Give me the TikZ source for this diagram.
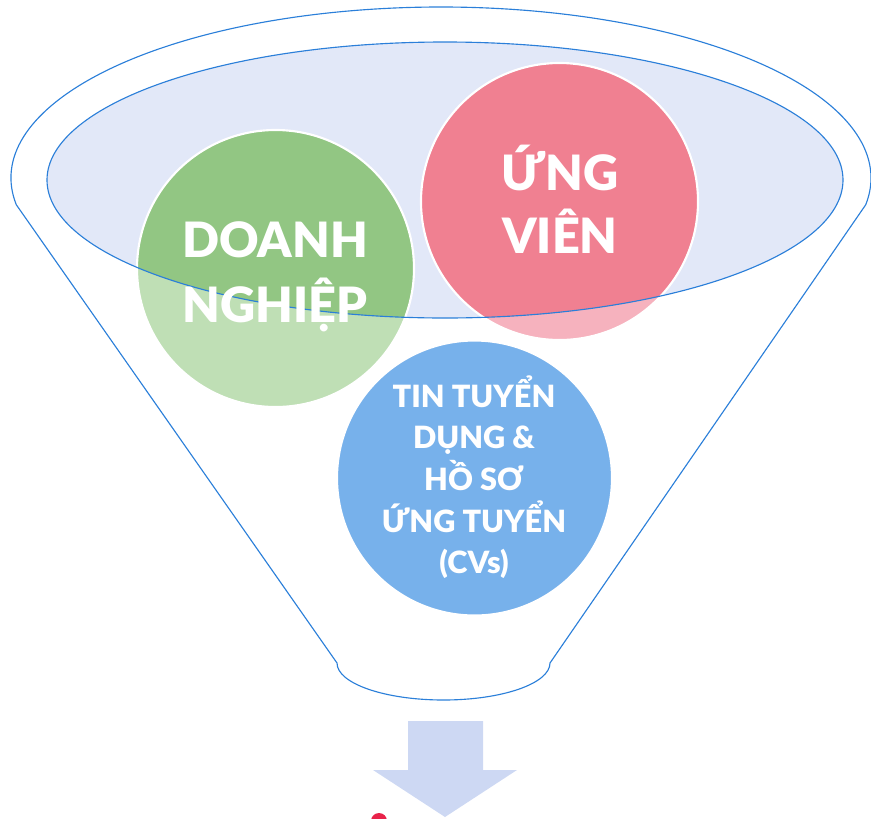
\documentclass[tikz,border=0pt]{standalone}
\usepackage{fontspec}
\setmainfont{Lato}[BoldFont={Lato Black}]
\definecolor{lineblue}{HTML}{2B7FD9}
\definecolor{lav}{HTML}{E2E8F8}
\definecolor{gdark}{HTML}{92C683}
\definecolor{glight}{HTML}{BFDFB5}
\definecolor{pdark}{HTML}{F08091}
\definecolor{plight}{HTML}{F6B2BE}
\definecolor{bcirc}{HTML}{77B1EB}
\definecolor{arrowc}{HTML}{CDD8F3}
\definecolor{reddot}{HTML}{E8234A}
\begin{document}
\begin{tikzpicture}[x=0.75pt,y=-0.75pt,
  funnelline/.style={draw=lineblue,line width=0.85pt},
  rim/.style={white,line width=1.6pt},
  anchorpt/.style={inner sep=0pt,minimum size=0pt},
  bigtxt/.style={text=white,font=\fontsize{36.5}{48}\selectfont\bfseries,anchor=base,inner sep=0pt},
  smalltxt/.style={text=white,font=\fontsize{23}{31}\selectfont\bfseries,anchor=base,inner sep=0pt}]
\useasboundingbox (0,0) rectangle (871,818);
% funnel outline
\coordinate (L) at (16.3,204.75);
\coordinate (BR) at (550,663);
\draw[funnelline] (L) arc[start angle=171,end angle=369,x radius=430,y radius=171]
  -- (BR) arc[start angle=0,end angle=180,x radius=106.5,y radius=37] -- cycle;
% inner ellipse fill
\fill[lav] (445,180) ellipse[x radius=398,y radius=138];
% circles (light, outside the ellipse)
\fill[glight] (275.5,268.5) circle[radius=138.5];
\fill[plight] (559.5,201.5) circle[radius=138.5];
\begin{scope}
  \clip (445,180) ellipse[x radius=398,y radius=138];
  \fill[gdark] (275.5,268.5) circle[radius=138.5];
  \fill[pdark] (559.5,201.5) circle[radius=138.5];
\end{scope}
\draw[rim] (275.5,268.5) circle[radius=138.5];
\draw[rim] (559.5,201.5) circle[radius=138.5];
\fill[bcirc] (474.5,478) circle[radius=137.5];
\draw[rim] (474.5,478) circle[radius=137.5];
\node[anchorpt] (green) at (275.5,268.5) {};
\node[anchorpt] (pink) at (559.5,201.5) {};
\node[anchorpt] (blue) at (474.5,478) {};
% inner ellipse outline
\draw[funnelline] (445,180) ellipse[x radius=398,y radius=138];
% texts
\node[bigtxt] (g1) at (275,257) {DOANH};
\node[bigtxt] (g2) at (275,322) {NGHIỆP};
\node[bigtxt] (p1) at (560,190) {ỨNG};
\node[bigtxt] (p2) at (560,253) {VIÊN};
\node[smalltxt] (b1) at (474,407) {TIN TUYỂN};
\node[smalltxt] (b2) at (474,448) {DỤNG \&};
\node[smalltxt] (b3) at (474,490) {HỒ SƠ};
\node[smalltxt] (b4) at (474,532) {ỨNG TUYỂN};
\node[smalltxt] (b5) at (474,573) {(CVs)};
% down arrow
\fill[arrowc] (408,721) -- (483,721) -- (483,770) -- (517,770) -- (445,817)
  -- (373,770) -- (408,770) -- cycle;
% red dot (cut by the page edge)
\fill[reddot] (379,821) circle[radius=8];
\end{tikzpicture}
\end{document}
